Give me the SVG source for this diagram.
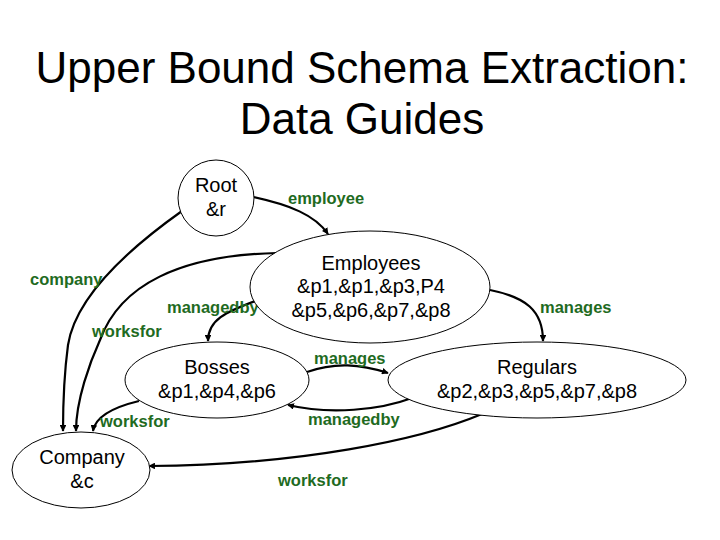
<svg xmlns="http://www.w3.org/2000/svg" width="720" height="540" viewBox="0 0 720 540">
<style>
.node{fill:#fff;stroke:#000;stroke-width:1}
.nt{font-family:"Liberation Sans",Arial,sans-serif;font-size:20px;fill:#000;text-anchor:middle}
.title{font-family:"Liberation Sans",Arial,sans-serif;font-size:44px;fill:#000;text-anchor:middle}
.lbl{font-family:"Liberation Sans",Arial,sans-serif;font-size:16.5px;font-weight:bold;fill:#1f6b1f}
.edge{fill:none;stroke:#000;stroke-width:2.2;marker-end:url(#arr)}
</style>
<defs>
<marker id="arr" viewBox="0 0 10 10" refX="9" refY="5" markerWidth="3.2" markerHeight="3" orient="auto" markerUnits="strokeWidth">
<path d="M0,0 L10,5 L0,10 Z" fill="#000"/>
</marker>
</defs>
<rect width="720" height="540" fill="#fff"/>
<g id="title">
<text class="title" x="362" y="83">Upper Bound Schema Extraction:</text>
<text class="title" x="362" y="134">Data Guides</text>
</g>
<g id="connectors">
<path class="edge" d="M253,197 C290,205 315,215 328,234"/>
<path class="edge" d="M182,211 C120,255 75,300 68,345 C64,375 63,400 63,431"/>
<path class="edge" d="M277,253 C180,255 120,285 100,340 C90,362 76,400 76,431"/>
<path class="edge" d="M258,300 C225,312 208,320 208,341"/>
<path class="edge" d="M490,290 C525,297 543,310 543,341"/>
<path class="edge" d="M307,372 C335,362 360,364 388,373"/>
<path class="edge" d="M412,398 C380,410 330,415 288,405"/>
<path class="edge" d="M139,401 C110,408 95,418 93,431"/>
<path class="edge" d="M482,414 C420,440 300,465 149,466"/>
<text class="lbl" x="288" y="204">employee</text>
<text class="lbl" x="30" y="285">company</text>
<text class="lbl" x="167" y="313">managedby</text>
<text class="lbl" x="92" y="337">worksfor</text>
<text class="lbl" x="540" y="313">manages</text>
<text class="lbl" x="314" y="364">manages</text>
<text class="lbl" x="308" y="425">managedby</text>
<text class="lbl" x="100" y="427">worksfor</text>
<text class="lbl" x="278" y="486">worksfor</text>
</g>
<g id="root">
<circle class="node" cx="216" cy="198" r="38"/>
<text class="nt" x="216" y="192">Root</text>
<text class="nt" x="216" y="216">&amp;r</text>
</g>
<g id="employees">
<ellipse class="node" cx="370" cy="287" rx="120" ry="56"/>
<text class="nt" x="371" y="270">Employees</text>
<text class="nt" x="371" y="293">&amp;p1,&amp;p1,&amp;p3,P4</text>
<text class="nt" x="371" y="317">&amp;p5,&amp;p6,&amp;p7,&amp;p8</text>
</g>
<g id="bosses">
<ellipse class="node" cx="217" cy="380" rx="92" ry="38"/>
<text class="nt" x="217" y="374">Bosses</text>
<text class="nt" x="217" y="398">&amp;p1,&amp;p4,&amp;p6</text>
</g>
<g id="regulars">
<ellipse class="node" cx="537" cy="380" rx="149" ry="38"/>
<text class="nt" x="537" y="374">Regulars</text>
<text class="nt" x="537" y="398">&amp;p2,&amp;p3,&amp;p5,&amp;p7,&amp;p8</text>
</g>
<g id="company">
<ellipse class="node" cx="81" cy="470" rx="69" ry="38"/>
<text class="nt" x="82" y="464">Company</text>
<text class="nt" x="82" y="488">&amp;c</text>
</g>
</svg>
